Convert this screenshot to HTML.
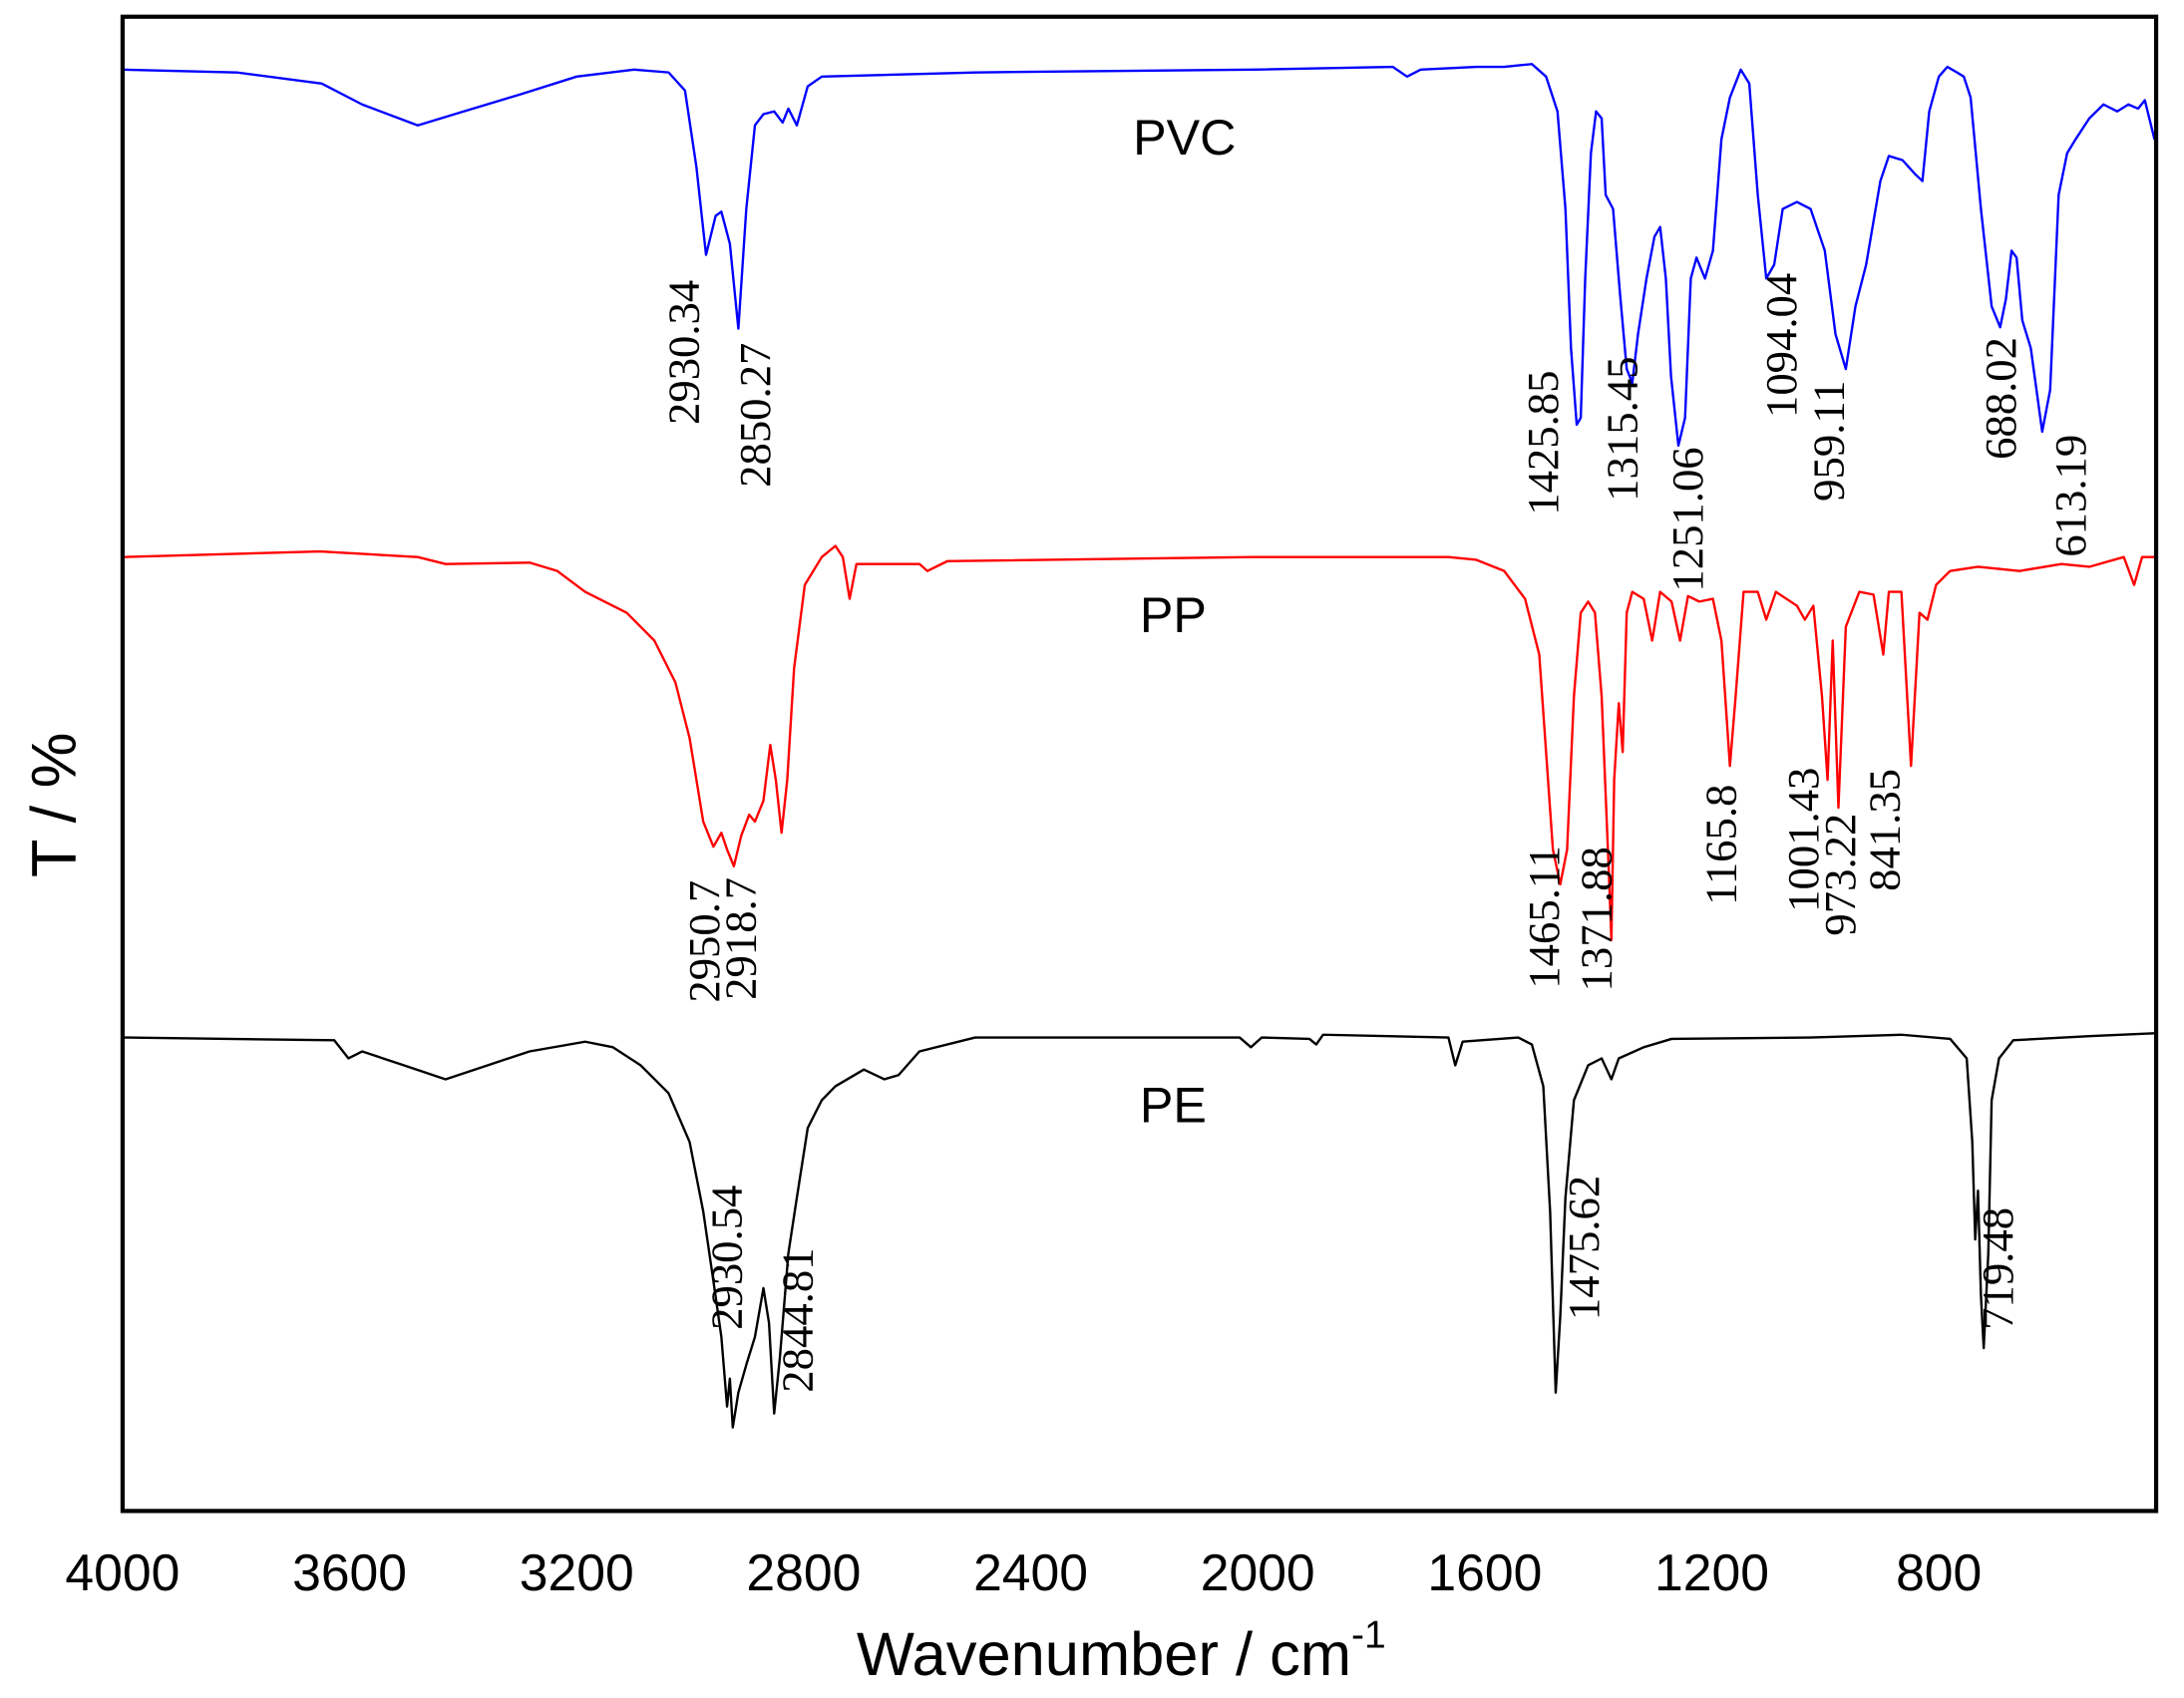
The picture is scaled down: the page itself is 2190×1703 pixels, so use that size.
<!DOCTYPE html>
<html><head><meta charset="utf-8"><style>
html,body{margin:0;padding:0;background:#fff}
svg{display:block}
</style></head><body>
<svg id="chart" width="2190" height="1703" viewBox="0 0 1568 1219.3" preserveAspectRatio="none" xmlns="http://www.w3.org/2000/svg">
<rect x="0" y="0" width="1568" height="1220" fill="#fff"/>
<g id="series"></g>
<g id="labels"></g>
<rect x="88" y="12" width="1460" height="1073" fill="none" stroke="#000" stroke-width="3"/>
<g id="ticks"></g>
<text x="805" y="1203" font-family="Liberation Sans, sans-serif" font-size="44" text-anchor="middle">Wavenumber / cm<tspan dy="-20" font-size="28">-1</tspan></text>
<text transform="translate(54,578) rotate(-90)" font-family="Liberation Sans, sans-serif" font-size="45" text-anchor="middle">T / %</text>
</svg>
<script>
const xTicks = [4000, 3600, 3200, 2800, 2400, 2000, 1600, 1200, 800];
const seriesNames = ["PVC", "PP", "PE"];
const seriesColors = ["#0000ff", "#ff0000", "#000000"];
const pvcW = [4000,3799,3649,3578,3480,3399,3301,3200,3099,3038,3009,2989,2972,2955,2945,2930,2915,2901,2886,2871,2852,2837,2827,2812,2793,2768,2498,2007,1762,1737,1713,1615,1566,1517,1492,1472,1458,1448,1438,1431,1423,1413,1404,1394,1387,1374,1362,1350,1340,1330,1315,1301,1291,1281,1272,1259,1247,1237,1227,1212,1198,1183,1168,1149,1134,1119,1104,1090,1075,1050,1026,1001,982,964,947,928,903,888,864,842,829,817,800,785,768,756,744,726,707,692,682,672,663,653,638,618,604,589,574,559,535,510,486,466,449,437,420];
const pvcT = [103.5,103.3,102.5,101,99.5,100.5,101.7,103,103.5,103.3,102,96.5,90.2,93,93.3,91,84.9,93.5,99.5,100.3,100.5,99.7,100.7,99.5,102.3,103,103.3,103.5,103.7,103,103.5,103.7,103.7,103.9,103,100.5,93.5,83.5,78,78.5,88.5,97.5,100.5,100,94.5,93.5,87.5,82,81,84.5,88.5,91.5,92.2,88.5,81.5,76.5,78.5,88.5,90,88.5,90.5,98.5,101.5,103.5,102.5,94.5,88.5,89.5,93.5,94,93.5,90.5,84.5,82,86.5,89.5,95.5,97.3,97,96,95.5,100.5,103,103.7,103.3,103,101.5,93.5,86.5,85,87,90.5,90,85.5,83.5,77.5,80.5,94.5,97.5,98.5,100,101,100.5,101,100.7,101.3,98.5];
const ppW = [4000,3652,3480,3431,3283,3234,3185,3112,3063,3026,3001,2977,2959,2945,2935,2923,2910,2896,2886,2871,2859,2849,2839,2829,2817,2798,2768,2744,2731,2719,2707,2670,2596,2582,2547,2007,1664,1615,1566,1529,1504,1492,1480,1467,1455,1443,1431,1418,1406,1394,1382,1377,1372,1364,1357,1350,1340,1320,1305,1291,1271,1256,1242,1222,1198,1183,1168,1158,1144,1119,1104,1087,1050,1036,1021,1006,996,987,977,964,940,915,898,888,866,849,834,820,805,780,731,658,584,535,474,456,442,420];
const ppT = [68.5,68.9,68.5,68,68.1,67.5,66,64.5,62.5,59.5,55.5,49.5,47.7,48.7,47.5,46.3,48.5,50,49.5,51,55,52.5,48.7,52.5,60.5,66.5,68.5,69.3,68.5,65.5,68,68,68,67.5,68.2,68.5,68.5,68.3,67.5,65.5,61.5,54.5,47.5,45,47.5,58.5,64.5,65.3,64.5,58.5,46.5,41,52.5,58,54.5,64.5,66,65.5,62.5,66,65.3,62.5,65.7,65.3,65.5,62.5,53.5,58.5,66,66,64,66,65,64,65,58.5,52.5,62.5,50.5,63.5,66,65.8,61.5,66,66,53.5,64.5,64,66.5,67.5,67.8,67.5,68,67.8,68.5,66.5,68.5,68.5];
const peW = [4000,3627,3602,3578,3504,3431,3357,3283,3185,3136,3087,3038,3001,2977,2959,2945,2935,2930,2925,2915,2901,2886,2871,2861,2852,2842,2827,2812,2793,2768,2744,2694,2658,2633,2596,2498,2302,2032,2012,1993,1909,1897,1885,1664,1652,1639,1541,1517,1497,1485,1475,1467,1458,1443,1418,1394,1377,1364,1320,1271,1026,866,780,751,741,736,731,726,721,713,707,694,669,535,420];
const peT = [34,33.8,32.5,33,32,31,32,33,33.7,33.3,32,30,26.5,21.5,16.5,12.5,7.5,9.5,6,8.5,10.5,12.5,16,13.5,7,11,18.5,22.5,27.5,29.5,30.5,31.7,31,31.3,33,34,34,34,33.3,34,33.9,33.5,34.2,34,32,33.7,34,33.5,30.5,21.5,8.5,14,22.5,29.5,32,32.5,31,32.5,33.3,33.9,34,34.2,33.9,32.5,26.5,19.5,23,15.5,11.7,18.5,29.5,32.5,33.8,34.1,34.3];
const nameW = [2129, 2149, 2149];
const nameT = [97.4, 63.1, 27.9];
const peakText = ["2930.34","2850.27","1425.85","1315.45","1251.06","1094.04","959.11","688.02","613.19","2950.7","2918.7","1465.11","1371.88","1165.8","1001.43","973.22","841.35","2930.54","2844.81","1475.62","719.48"];
const peakW = [2975,2850,1462,1322,1207,1042,958,655,532,2939,2875,1460,1368,1148,1003,938,860,2900,2775,1390,660];
const peakT = [78,73.5,71.5,72.5,66,78.5,72.5,75.5,68.5,36.5,36.7,37.5,37.3,43.5,43,41.3,44.5,13,8.5,13.7,13];

const X0 = 88, Y0 = 1085;
function xs(w){ return X0 + (4000 - w) * 0.4075; }
function ys(t){ return Y0 - t * 10; }
const NS = "http://www.w3.org/2000/svg";
const gS = document.getElementById('series');
const gL = document.getElementById('labels');
const gT = document.getElementById('ticks');

const allW = [pvcW, ppW, peW], allT = [pvcT, ppT, peT];
for (let s = 0; s < 3; s++) {
  let d = '';
  allW[s].forEach((w, i) => { d += (i ? 'L' : 'M') + xs(w).toFixed(1) + ',' + ys(allT[s][i]).toFixed(1); });
  const p = document.createElementNS(NS, 'path');
  p.setAttribute('d', d);
  p.setAttribute('fill', 'none');
  p.setAttribute('stroke', seriesColors[s]);
  p.setAttribute('stroke-width', '1.7');
  p.setAttribute('stroke-linejoin', 'round');
  
  
  gS.appendChild(p);
  const t = document.createElementNS(NS, 'text');
  t.setAttribute('x', xs(nameW[s]));
  t.setAttribute('y', ys(nameT[s]));
  t.setAttribute('text-anchor', 'middle');
  t.setAttribute('font-family', 'Liberation Sans, sans-serif');
  t.setAttribute('font-size', '36');
  t.textContent = seriesNames[s];
  
  
  gS.appendChild(t);
}
peakText.forEach((txt, i) => {
  const t = document.createElementNS(NS, 'text');
  const x = xs(peakW[i]) - 4, y = ys(peakT[i]);
  t.setAttribute('transform', 'translate(' + x.toFixed(1) + ',' + y.toFixed(1) + ') rotate(-90)');
  t.setAttribute('font-family', 'Liberation Serif, serif');
  t.setAttribute('font-size', '32');
  t.textContent = txt;
  
  
  gL.appendChild(t);
});
xTicks.forEach(v => {
  const t = document.createElementNS(NS, 'text');
  t.setAttribute('x', xs(v));
  t.setAttribute('y', 1142);
  t.setAttribute('text-anchor', 'middle');
  t.setAttribute('font-family', 'Liberation Sans, sans-serif');
  t.setAttribute('font-size', '37');
  t.textContent = v;
  
  
  gT.appendChild(t);
});
</script>
</body></html>
